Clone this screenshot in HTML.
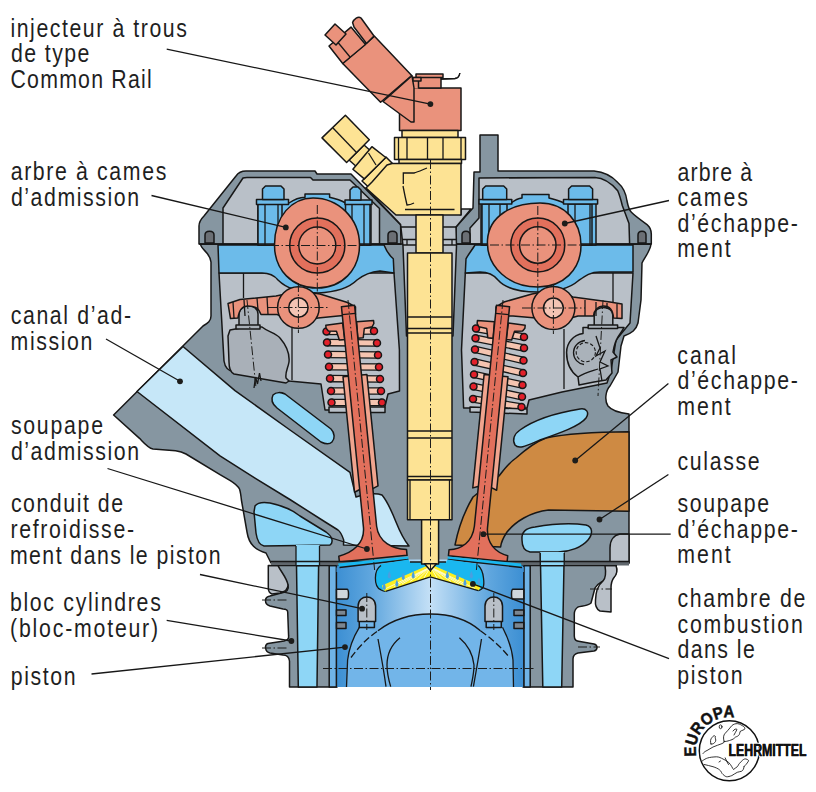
<!DOCTYPE html>
<html><head><meta charset="utf-8">
<style>
html,body{margin:0;padding:0;background:#fff;}
body{width:816px;height:792px;overflow:hidden;}
svg{display:block;}
.t{font-family:"Liberation Sans",sans-serif;font-size:26px;fill:#1f1f1f;}
.o{stroke:#171717;stroke-width:1.5;stroke-linejoin:round;}
.l{stroke:#171717;stroke-width:1.3;fill:none;}
.dd{stroke:#1d1d1b;stroke-width:1;fill:none;stroke-dasharray:9 2.5 1.5 2.5;}
</style></head>
<body>
<svg width="816" height="792" viewBox="0 0 816 792">
<defs>
<linearGradient id="pg" x1="0" x2="1" y1="0" y2="0">
<stop offset="0" stop-color="#3c8fd3"/>
<stop offset="0.18" stop-color="#5fa6de"/>
<stop offset="0.5" stop-color="#c4e0f6"/>
<stop offset="0.82" stop-color="#5fa6de"/>
<stop offset="1" stop-color="#3c8fd3"/>
</linearGradient>
<linearGradient id="pg2" x1="0" x2="1" y1="0" y2="0">
<stop offset="0" stop-color="#4b9ad8"/>
<stop offset="0.5" stop-color="#8dc4ef"/>
<stop offset="1" stop-color="#4b9ad8"/>
</linearGradient>
</defs>
<!-- head body -->
<path class="o" fill="#8696a1" d="M200.5,244 C201,250 210,252 211,262 L211,316 C211,321 208,323 203,326 L113.6,415 L139.8,438.6 C144,443 148,448 153,449 L175.6,450.7 C180,451.3 183,452.3 186,454 L220,474.7 L230.3,480.6 C235,483.5 238,486 239.5,489 C240.5,492 241,496 241.4,500 L247,532 C249,545 256,550 266,553 L271,563 L629,563 L629,414 C620,413 612,411 608,406 C604,400 606,390 610,386 L618,372 L621,346 L624,336 C632,333 636,330 638,323 L641,300 L642,263 C644,258 650,252 651,244 Z"/>
<!-- left cover -->
<path class="o" fill="#8696a1" d="M199,244 L199,226 C199,222 201,219 204,216 L236,176 C238,173 241,171 246,171 L315,171 L317,174 L351,174 L400.6,224.6 L401,244 Z"/>
<path class="o" fill="#b9c0c8" d="M223,244 L223,208 L243,178 C244,177.6 245,177.4 247,177.4 L310.5,177.4 L313,180 L350,180 L379.5,208.5 L379.5,244 Z"/>
<!-- right cover -->
<path class="o" fill="#8696a1" d="M456,244 L456,227 L473,208 L474,172 L480,172 L480,135 L498,135 L498,171 L594,171 C605,172 612,176 618,182.7 C623,187 626,193 627,201 C628,206 629,210 631.4,212.3 C635,216 642,221 647.3,224.8 C650,227 651.3,230 651.3,234 L651.3,244 Z"/>
<path class="o" fill="#b9c0c8" d="M470,244 L470,228 L479,218 L479,178 L595,177.5 C605,178 612,184 617.7,190.7 C620,196 621,200 622.3,205.5 L629,223.6 L629.6,244 Z"/>
<!-- chambers -->
<path class="o" fill="#b9c0c8" d="M219,273 L224,361 C225,368 228,371 234,372 L289,381 L321,384 L325,410 L384,410 L388,394 L399.5,391 L399.4,350 L394,273 Z"/>
<path class="o" fill="#b9c0c8" d="M465.3,273 L461.5,350 L463.6,408 L527,408 L529,400 L562,392 L607,383 L611,371 L616,340 L630,323 L633,273 Z"/>
<!-- lower bearing bands -->
<path class="o" fill="#6cbbea" d="M218,245 L384,245 C386,250 390,256 393.3,258.8 L394,273 L380,271 C370,272 362,276 357,280 C350,287 338,292 318,293 C298,293 285,287 278,280 C274,275 270,273 262,273 L219,273 Z"/>
<path class="o" fill="#6cbbea" d="M475,245 L633,245 L633,272 L600,272 C590,272 585,276 578,281 C570,288 558,292 538,292 C518,292 505,288 498,280 C494,275 488,272 480,272 L465.3,273 L466,258.8 C468,255 472,250 475,245 Z"/>
<!-- upper caps -->
<path class="o" fill="#6cbbea" d="M258,245 L258,203 L289,203 C295,199 300,197.5 305,197.3 L305,194 L329.6,194 L329.6,197.3 C337,199 342,201 345.5,203 L371,203 L371,245 Z"/>
<path class="o" fill="#6cbbea" d="M481,245 L481,203 L511,203 C515,200 518,198.5 522,198 L522,194.5 L549,194.5 L549,198 C555,199.5 560,201 564,203 L596,203 L596,245 Z"/>
<!-- intake port -->
<path class="o" fill="#c6e7f8" d="M137,391.5 L183,346.5 L235,390.6 L290,430 L350,472.4 L356,497 C366,494 376,493 382,495 C388,502 392,512 396,522 C400,532 404,540 409,546 L343.5,545 L343.7,540 C342,535 341,532 338,530 L326,522.5 L290.7,500 L255.4,478.3 L220,455.8 Z"/>
<!-- upper coolant pocket (intake) -->
<path class="o" fill="#8ed6f6" d="M273,395 C276,392 281,392 285,394 L331,429 C335,433 335,439 332,442 C329,445 325,444 321,442 L277,408 C272,404 271,399 273,395 Z"/>
<!-- lower coolant pocket (intake) -->
<path class="o" fill="#8ed6f6" d="M255,506 C258,502 264,502 270,503 C280,505 290,508 300,516 L326,532 C332,536 334,542 330,545 L264,546 C259,545 257,540 256,533 L254,512 Z"/>
<!-- exhaust port -->
<path class="o" fill="#ce8a43" d="M629,431.8 L629,511.3 L548.6,510 C530,512 515,522 507,532 C503,538 501,543 500.6,547 L455,545 C458,530 464,512 473,497 L499,476 C505,468 510,462 516,458 C525,450 535,442 546,438 C570,433 600,432 629,431.8 Z"/>
<!-- head coolant (exhaust) -->
<path class="o" fill="#8ed6f6" d="M515,445 C512,440 514,434 520,430 C534,420 555,413 580,409 C586,408 590,412 586,418 C580,426 560,433 540,440 C528,445 519,450 515,445 Z"/>
<!-- lower right coolant oval -->
<path class="o" fill="#8ed6f6" d="M522,540 C521,532 526,528 535,527 C552,524 572,523 586,525 C593,527 593,534 588,540 C582,547 570,552 558,552 L530,552 C524,551 522,546 522,540 Z"/>
<!-- light grey lower right head -->
<path class="o" fill="#b9c0c8" d="M610,563 L610,548 C610,540 614,535 620,534 L629,534 L629,563 Z"/>
<!-- injector well -->
<path class="o" fill="#b9c0c8" d="M366,188 L400.6,224.6 L403,246 L406.5,336 L453,336 L456.5,246 L456,227 L471,209 L461,209 L461,214.7 Z"/>
<!-- salmon connector (angled) -->
<path class="o" fill="#ea927c" d="M399.5,88 L461,88 L461,130.5 L399.5,130.5 Z"/>
<path class="o" fill="#ea927c" d="M342.7,63.5 L374.5,36.2 L411.7,75.5 L380.6,102.3 Z"/>
<path fill="#ea927c" d="M410,76 L419,77 L419,88.5 L413,88.5 Z"/>
<path class="o" fill="#ea927c" d="M383,101.5 L412,75.8 L414,88 L414,122 L411,122 Z"/>
<path class="o" fill="#ea927c" d="M329,46 L351,27.1 L365.5,44.5 L342.7,63.5 Z"/>
<path class="l" d="M336,40 L350,57"/>
<path class="o" fill="#ea927c" d="M325,35 L335,24 L346,34 L336,45 Z"/>
<path class="o" fill="#ea927c" d="M352.6,22.6 C354,19 358,16 361,18 L374,36 L366.5,43.5 L354,27 Z"/>
<path class="o" fill="#ea927c" d="M418.5,77 L441,77 L441,88 L418.5,88 Z"/>
<path class="o" fill="#ea927c" d="M416,74 L443,74 L443,77.5 L416,77.5 Z"/>
<path class="o" fill="#ea927c" d="M413,77.5 L421,77.5 L421,81 L413,81 Z"/>
<path class="l" stroke-width="3.2" d="M441,79 L455,78.5 C458.5,78 459.5,76 459.8,73"/>
<path class="l" stroke-width="1.4" stroke="#ea927c" d="M441,79 L455,78.5 C458.5,78 459.5,76 459.8,73"/>
<!-- yellow parts -->
<path class="o" fill="#fde394" d="M402,130.5 L458,130.5 L458,137.5 L402,137.5 Z"/>
<path class="o" fill="#fde394" d="M394.5,137.5 L465.5,137.5 L465.5,159.5 L394.5,159.5 Z"/>
<path class="l" d="M398.5,137.5 V159.5 M407,137.5 V159.5 M427.5,137.5 V159.5 M443,137.5 V159.5 M461,137.5 V159.5"/>
<path class="o" fill="#fde394" d="M399,159.5 L461.5,159.5 L461.5,163.5 L399,163.5 Z"/>
<!-- fuel inlet -->
<path class="o" fill="#fde394" d="M362,181 L386,157 L393,164 L369.5,188 Z"/>
<path class="o" fill="#fde394" d="M349,160 L364,145 L373,153 L358,168 Z"/>
<path class="o" fill="#fde394" d="M322,137.9 L345.4,115.2 L369.3,139.8 L346.6,162.5 Z"/>
<path class="l" d="M333,128 L357,153"/>
<path class="o" fill="#fde394" d="M352.9,169.3 L371.9,146.7 L385.8,157.5 L364.3,178.9 Z"/>
<path class="l" d="M368.5,153 L376,165"/>
<path class="o" fill="#fde394" d="M402,163.5 L461,163.5 L461,215 L396,215 L366,188 L372,182 L387,165 L392,163.5 Z"/>
<path class="l" d="M403.3,184 L403.3,173 L414,173 C418,172 422,170 427,168 M403,186 L405,196 L407,205 C409,205 412,204 414,203 M405,209.5 L454.5,209.5"/>
<path class="l" d="M401,227 H416 M443,227 H457 M402.3,239.5 H416 M443,239.5 H456.7 M407,239.5 V245 M452,239.5 V245 M403,245 H416 M443,245 H456.6"/>
<!-- injector shaft -->
<path class="o" fill="#fde394" d="M416,215 L443,215 L443,253 L416,253 Z"/>
<path class="o" fill="#fde394" d="M407.5,253 L452,253 L452,480 L407.5,480 Z"/>
<path class="l" d="M407.5,317 H452 M407.5,328.5 H452 M407.5,333 H452 M407.5,431 H452 M407.5,438 H452 M407.5,476.5 H452"/>
<path class="o" fill="#fde394" d="M407.5,480 L452,480 L452,519.7 L407.5,519.7 Z"/>
<path class="l" d="M410,480 V519.7 M449.5,480 V519.7"/>
<!-- bolts left bearing -->
<g class="o" fill="#6cbbea">
<path d="M258,245 L258,204 L282,204 L282,245 Z"/>
<path d="M256.5,199.5 L288.5,199.5 L288.5,204.5 L256.5,204.5 Z"/>
<path d="M262.5,199.5 L262.5,189 L265.5,186 L281,186 L284,189 L284,199.5 Z"/>
<path d="M345.5,245 L345.5,204 L370,204 L370,245 Z"/>
<path d="M345,200 L372,200 L372,204.5 L345,204.5 Z"/>
<path d="M350,200 L350,190 L353,187 L358,187 L361,190 L361,200 Z"/>
<path d="M482,245 L482,204 L507,204 L507,245 Z"/>
<path d="M479,199.5 L511.8,199.5 L511.8,204 L479,204 Z"/>
<path d="M482.7,199.5 L482.7,189 L485.7,186 L503.7,186 L506.7,189 L506.7,199.5 Z"/>
<path d="M568,245 L568,204 L592,204 L592,245 Z"/>
<path d="M563.5,199.5 L597.6,199.5 L597.6,204 L563.5,204 Z"/>
<path d="M568.6,199.5 L568.6,189 L571.6,186 L589.6,186 L592.6,189 L592.6,199.5 Z"/>
</g>
<path class="l" d="M265,204 V245 M278,204 V245 M489,204 V245 M500,204 V245 M575,204 V245 M590,204 V245 M352,204 V245 M364,204 V245"/>
<!-- dark bumps -->
<g class="o" fill="#6b6f74">
<path d="M205,243 L205,235 C205,230 214,230 214,235 L214,243 Z"/>
<path d="M388,243 L388,235 C388,230 397,230 397,235 L397,243 Z"/>
<path d="M462,243 L462,235 C462,230 470,230 470,235 L470,243 Z"/>
<path d="M638,243 L638,235 C638,230 646,230 646,235 L646,243 Z"/>
</g>
<path class="l" stroke-width="2.2" d="M199,244 H401 M456,244 H651"/>
<!-- cams -->
<path class="o" fill="#ea927c" d="M274.5,245 C274.5,216 292,198 313,198 C338,198 359.5,218 359.5,245 C359.5,270 342,288 317,288 C292,288 274.5,270 274.5,245 Z"/>
<circle class="o" fill="#e2705c" cx="317.3" cy="245.5" r="27.6"/>
<circle class="o" fill="#ea927c" cx="317.3" cy="245.5" r="18.5"/>
<path class="o" fill="#ea927c" d="M487.5,240 C489,216 512,203 540,203 C565,203 581,222 581,245 C581,270 563,287 538,287 C510,287 486,268 487.5,240 Z"/>
<circle class="o" fill="#e2705c" cx="537.8" cy="245" r="27"/>
<circle class="o" fill="#ea927c" cx="537.8" cy="245" r="18.2"/>
<path class="l" d="M243.5,273 V298 M292,327 V380 M613,273 V302 M564,329 V389"/>
<!-- left lash adjuster -->
<path class="o" fill="#a9b0b8" d="M230,330 L246,327 L262,327 C268,332 276,333 280,338 C286,345 290,352 289,362 C288,368 285,372 286,378 L289,381 L286,383 L234,374 C230,372 229,368 229,362 L228,336 Z"/>
<path class="o" fill="#a9b0b8" d="M239,327 L239,314 C239,303 258,303 258,314 L258,327 Z"/>
<path class="o" fill="#a9b0b8" d="M236,325 L260,325 L260,329 L236,329 Z"/>
<path class="l" stroke-width="1.1" d="M254,388 L255.5,377 L257.5,384 L259.5,373 L261,381"/>
<!-- left rocker -->
<path class="o" fill="#ea927c" d="M228,303.5 L240,299.5 L276,296 L300,291 L320,294 L347.5,302.5 L355.5,307 L355.5,314.5 L338,316 L318,318 L298,322 L277,314.5 L261,314.5 C259,309 256,306 248,306 C242,306 239,310 238,318 L230.5,318.6 Z"/>
<path class="l" d="M233,302 L234,318 M244,300 L245,316 M257,298 L258,310 M267,297 L268,314.5"/>
<circle class="o" fill="#ea927c" cx="298.4" cy="307.5" r="20.8"/>
<circle class="o" fill="#f4c4b4" cx="298.4" cy="307.5" r="9.7"/>
<!-- right lash adjuster -->
<path class="o" fill="#aab2ba" d="M583,327.6 L624,327.6 C622,331 620,334 618,337 C615,342 614,346 613,352 L617,357 L611,360 L612,373 L606,380 L594,382 L579,385 L578,377 C571,372 566.6,363 566.6,352.5 C566.6,343 573,335 583,333.6 Z"/>
<path class="l" d="M585,340.5 C578,341.5 573.5,346.5 573.5,352.5 C573.5,359 578,363.5 584,364.5 M578,377 C584,373 592,371 598,369 M596,336 L600,348 L596,356 L605,351 L600,362 L608,366 L600,369 L602,381"/>
<circle cx="585.8" cy="352.2" r="9.6" fill="none" stroke="#171717" stroke-width="1.1" stroke-dasharray="3.5 2"/>
<path class="o" fill="#aab2ba" d="M594.2,326 L594.2,315 C594.2,305 612.8,305 612.8,315 L612.8,326 Z"/>
<path class="o" fill="#aab2ba" d="M588.2,325 L617.6,325 L617.6,328.5 L588.2,328.5 Z"/>
<!-- right rocker -->
<path class="o" fill="#ea927c" d="M622,304 L622,318.5 L613.5,318 C613,310 609,306 603.5,306 C598,306 594,310 593.5,316 L578,316 L556,322 L536,318 L513,316 L496,316 L496,307 L504,302 L532,294 L553,290 L573,297 L610,302 Z"/>
<path class="l" d="M617,304 L617,318 M607,303 L607,309 M596,302 L596,316 M585,300 L585,316"/>
<circle class="o" fill="#ea927c" cx="553.4" cy="308" r="21.5"/>
<circle class="o" fill="#f4c4b4" cx="553.4" cy="308" r="9.9"/>
<!-- left spring -->
<g>
<path d="M326.5,331.5 L374.0,331.0 M327.0,342.6 L377.0,343.0 M328.0,354.5 L378.0,355.0 M329.0,366.7 L379.0,367.0 M330.0,378.6 L380.0,379.0 M331.0,391.0 L381.0,391.0 M331.5,402.5 L382.0,402.5" stroke="#171717" stroke-width="7.6" fill="none"/>
<path d="M326.5,331.5 L374.0,331.0 M327.0,342.6 L377.0,343.0 M328.0,354.5 L378.0,355.0 M329.0,366.7 L379.0,367.0 M330.0,378.6 L380.0,379.0 M331.0,391.0 L381.0,391.0 M331.5,402.5 L382.0,402.5" stroke="#f5c4b0" stroke-width="5" fill="none"/>
<path class="o" fill="#b9c0c8" d="M329,407 L385,407 L385,412.5 L329,412.5 Z"/>
<g class="o" fill="#e2202a" stroke-width="1.1">
<circle cx="326.5" cy="331.5" r="3.5"/><circle cx="327.0" cy="342.6" r="3.5"/><circle cx="328.0" cy="354.5" r="3.5"/><circle cx="329.0" cy="366.7" r="3.5"/><circle cx="330.0" cy="378.6" r="3.5"/><circle cx="331.0" cy="391.0" r="3.5"/><circle cx="331.5" cy="402.5" r="3.5"/><circle cx="374.0" cy="331.0" r="3.5"/><circle cx="377.0" cy="343.0" r="3.5"/><circle cx="378.0" cy="355.0" r="3.5"/><circle cx="379.0" cy="367.0" r="3.5"/><circle cx="380.0" cy="379.0" r="3.5"/><circle cx="381.0" cy="391.0" r="3.5"/><circle cx="382.0" cy="402.5" r="3.5"/>
</g>
</g>
<!-- right spring -->
<g>
<path d="M476.0,328.6 L524.0,337.0 M475.5,338.3 L524.0,348.0 M475.0,349.4 L523.5,360.5 M474.5,362.0 L523.0,373.0 M474.0,374.4 L522.5,385.0 M473.5,386.4 L522.0,396.7 M473.0,399.0 L521.5,407.0" stroke="#171717" stroke-width="7.6" fill="none"/>
<path d="M476.0,328.6 L524.0,337.0 M475.5,338.3 L524.0,348.0 M475.0,349.4 L523.5,360.5 M474.5,362.0 L523.0,373.0 M474.0,374.4 L522.5,385.0 M473.5,386.4 L522.0,396.7 M473.0,399.0 L521.5,407.0" stroke="#f5c4b0" stroke-width="5" fill="none"/>
<path class="o" fill="#b9c0c8" d="M470,407 L527,409 L527,414 L470,412 Z"/>
<g class="o" fill="#e2202a" stroke-width="1.1">
<circle cx="476.0" cy="328.6" r="3.5"/><circle cx="475.5" cy="338.3" r="3.5"/><circle cx="475.0" cy="349.4" r="3.5"/><circle cx="474.5" cy="362.0" r="3.5"/><circle cx="474.0" cy="374.4" r="3.5"/><circle cx="473.5" cy="386.4" r="3.5"/><circle cx="473.0" cy="399.0" r="3.5"/><circle cx="524.0" cy="337.0" r="3.5"/><circle cx="524.0" cy="348.0" r="3.5"/><circle cx="523.5" cy="360.5" r="3.5"/><circle cx="523.0" cy="373.0" r="3.5"/><circle cx="522.5" cy="385.0" r="3.5"/><circle cx="522.0" cy="396.7" r="3.5"/><circle cx="521.5" cy="407.0" r="3.5"/>
</g>
</g>
<!-- left valve -->
<g transform="translate(348,306) rotate(-5.7)">
<path class="o" fill="#f0a48e" d="M-12,70 L12,70 L12,182 L7,184 L-7,184 L-12,186 Z"/>
<path class="o" fill="#ea927c" d="M-24,17 L-7,16.5 L-6.6,33 L-12,33 L-14,24 L-22,23 L-24,20 Z M24,17 L7,16.5 L6.6,33 L12,33 L14,24 L22,23 L24,20 Z"/>
<path class="o" fill="#e2705c" d="M-6.6,0 L6.6,0 L6.6,222 C7,238 20,246 34,248 L34,254 L-34,254 L-34,248 C-20,246 -7,238 -6.6,222 Z"/>
<path class="l" d="M-6.6,8 H6.6"/>
</g>
<!-- right valve -->
<g transform="translate(503,306) rotate(5.7)">
<path class="o" fill="#f0a48e" d="M-12,70 L12,70 L12,184 L7,182 L-7,182 L-12,184 Z"/>
<path class="o" fill="#ea927c" d="M-24,17 L-7,16.5 L-6.6,33 L-12,33 L-14,24 L-22,23 L-24,20 Z M24,17 L7,16.5 L6.6,33 L12,33 L14,24 L22,23 L24,20 Z"/>
<path class="o" fill="#e2705c" d="M-6.6,0 L6.6,0 L6.6,222 C7,238 17,246 29.5,248 L29.5,254 L-29.5,254 L-29.5,248 C-17,246 -7,238 -6.6,222 Z"/>
<path class="l" d="M-6.6,8 H6.6"/>
</g>
<!-- block left -->
<path class="o" fill="#8696a1" d="M277,565 L337,565 L337,687 L289.5,687 L289.5,661 C289,657 287,655 283,655 L270,653 C265,652 264,645 268,643.5 L284,641 C288,640 289,638 288.6,636 L287.7,612 C287.5,609 285,609 283,609 L270,606 C264,604 264,597 270,596 L285,592 C289,590 289,586 287,583 C283,576 278,570 277,565 Z"/>
<path class="o" fill="#b9c0c8" d="M268.3,565.6 L278,565.6 C281,572 287,578 288,585 C288,590 284,592 280,593 L272,594 C269,593 268.3,590 268.3,588 Z"/>
<path class="o" fill="#8ed6f6" d="M296.5,565.6 L318.6,565.6 L317,687 L298.3,687 Z"/>
<path class="o" fill="#6fb3e6" d="M329.2,565.6 L336.5,565.6 L336.5,687 L329.2,687 Z"/>
<!-- block right -->
<path class="o" fill="#8696a1" d="M523,565 L616,565 C617,570 617,574 614,577 C606,580 598,582 595,588 L591,603 C588,606 582,606 578,607 C575,609 574.3,611 574.3,614 L574.3,636 C574.3,640 576,641 580,641.5 L594,644 C598,645 598,650 594,651 L578,653 C574,654 573,656 573,659 L573,687 L523,687 Z"/>
<path class="o" fill="#b9c0c8" d="M605,565.6 L616,565.6 C617.5,570 617.5,574 614,577.5 C612,580 611,583 611,588 L611,612 L600,611 C596,609 595,605 595.5,600 C596,592 597,586 603,581 C606,578 606,572 605,565.6 Z"/>
<path class="o" fill="#8ed6f6" d="M540.3,553 L564.2,553 L561.7,687 L542.8,687 Z"/>
<path class="o" fill="#6fb3e6" d="M523.8,565.6 L530.2,565.6 L530.2,687 L523.8,687 Z"/>
<!-- gasket -->
<path fill="#5f666c" d="M271,561.5 H629 V565.6 H271 Z"/>
<path class="l" d="M271,561.5 H629 M268,565.6 H617"/>
<path fill="#8ed6f6" d="M296,545 L319.5,545 L319.5,566 L296,566 Z M540.3,552 L564.2,552 L564.2,566 L540.3,566 Z"/>
<path class="l" d="M296,546 V566 M319.5,546 V566 M540.3,553 V566 M564.2,553 V566 M296,561.5 H319.5 M296,565.6 H319.5 M540.3,561.5 H564.2 M540.3,565.6 H564.2"/>
<!-- piston -->
<path fill="url(#pg)" d="M336.5,565.6 H523.8 V687 H336.5 Z"/>
<path fill="#72b5e9" d="M346.5,687 L347.6,660 C349,648 354,636 359.3,627.3 L378,630.7 C392,620 410,614 430.3,614 C450,614 468,620 480.4,630.7 L502.5,627.3 C507,636 512,648 513,660 L513.5,687 Z"/>
<path class="l" d="M346.5,687 L347.6,660 C349,648 354,636 359.3,627.3 M378,630.7 C392,620 410,614 430.3,614 C450,614 468,620 480.4,630.7 M502.5,627.3 C507,636 512,648 513,660 L513.5,687"/>
<path class="l" stroke-dasharray="7 3" d="M351,657.5 C358,648 366,639 378,630.7 M480.4,630.7 C492,639 502,648 509.5,657.5"/>
<path class="l" d="M378,639 C381,655 384,672 386,686.6 M400,637.7 C391,645 387,655 387,665 C387,674 389,681 390.7,686.6 M481.5,639 C479,655 476,672 473.4,686.6 M459.4,637.7 C468,645 473,655 474,665 C474,674 472,681 471,686.6"/>
<path class="l" d="M336.5,565.6 V687 M523.8,565.6 V687"/>
<!-- pin bosses -->
<path class="o" fill="#72b5e9" d="M359.3,620 H374.4 V627.5 H359.3 Z M486.2,620 H501.3 V627.5 H486.2 Z"/>
<path class="o" fill="#b9c0c8" d="M358.1,621.4 L358.1,606 C358.1,594 375.6,594 375.6,606 L375.6,621.4 Z M485,621.4 L485,606 C485,594 502.5,594 502.5,606 L502.5,621.4 Z"/>
<path class="dd" d="M366.8,593 V630 M493.8,593 V630"/>
<!-- ring grooves -->
<g class="o" fill="#cfd6dc" stroke-width="1.1">
<path d="M336.5,589.3 H347 C349,589.3 349,599 347,599 H336.5 Z"/>
<path d="M523.8,589.3 H513 C511,589.3 511,599 513,599 H523.8 Z"/>
</g>
<g class="o" fill="#7b8690" stroke-width="1.1">
<path d="M336.5,610 H346 V615.5 H336.5 Z M336.5,622.4 H346 V628.5 H336.5 Z"/>
<path d="M523.8,610 H514 V615.5 H523.8 Z M523.8,622.4 H514 V628.5 H523.8 Z"/>
</g>
<!-- combustion gap & bowl -->
<path fill="url(#pg)" d="M336.5,567.5 L408.4,559.5 L447.7,559.5 L523.8,567 L523.8,572 L336.5,572 Z"/>
<path fill="#1ab7ef" d="M338,563.5 L408.4,556.5 L408.4,559.5 L339.5,567.5 Z M447.7,556.4 L521,563.5 L522,567.5 L447.7,559.5 Z"/>
<path class="l" d="M339.5,567.5 L408.4,559.5 M447.7,559.5 L522,567.5"/>
<path fill="#1ab7ef" d="M380.6,564 L408.4,559.5 L410,562 L446,562 L447.7,559.5 L478.3,564 C482,569 483,573 483.5,578 C484,582 484,585 483.2,587 C482,589 480,590.5 478.3,590.6 L430.3,576.9 L385.7,591.4 C384,591.3 382,590.5 380.6,589.7 C377,588 375.3,584 375.4,578 C375.5,572 377,568 380.6,564 Z"/>
<path class="l" d="M410,562 H446"/>
<path class="l" stroke-width="1.5" d="M381,565.5 C377,568 375.5,572 375.4,578 C375.3,584 377,588 380.6,589.7 C382,590.5 384,591.3 385.7,591.4 M478.3,565.5 C482,569 483,573 483.5,578 C484,582 484,585 483.2,587 C482,589 480,590.5 478.3,590.6"/>
<path fill="#fcee21" d="M427.5,565.5 L382,585.5 L383,589.5 L385.7,591.4 L430.3,576.9 L478.3,590.6 L480.5,588 L479,585.5 L433.5,565.5 Z"/>
<g stroke="#fffde0" stroke-width="0.9" opacity="0.95">
<path d="M430.5,567 L386,588.5 M430.5,567 L394,586.5 M430.5,567 L402,584 M430.5,567 L410,581.5 M430.5,567 L418,579.5 M430.5,567 L424,578"/>
<path d="M430.5,567 L475,588.5 M430.5,567 L467,586.5 M430.5,567 L459,584 M430.5,567 L451,581.5 M430.5,567 L443,579.5 M430.5,567 L437,578"/>
</g>
<path class="l" stroke-width="1.5" d="M385.7,591.4 L430.3,576.9 L478.3,590.6"/>
<g fill="#4a9fe0">
<path transform="translate(389.3 575.0) scale(1.35) translate(-389.3 -575.0)" d="M389.3,572 C388,575 387.5,577 389.3,577.5 C391,577 390.5,575 389.3,572 Z"/>
<path transform="translate(403.2 576.5) scale(1.35) translate(-403.2 -576.5)" d="M403.2,573.5 C402,576.5 401.5,578.5 403.2,579 C405,578.5 404.5,576.5 403.2,573.5 Z"/>
<path transform="translate(413.3 575.0) scale(1.35) translate(-413.3 -575.0)" d="M413.3,572 C412,575 411.5,577 413.3,577.5 C415,577 414.5,575 413.3,572 Z"/>
<path transform="translate(396.9 583.5) scale(1.35) translate(-396.9 -583.5)" d="M396.9,580.5 C395.6,583.5 395.1,585.5 396.9,586 C398.6,585.5 398.1,583.5 396.9,580.5 Z"/>
<path transform="translate(384.3 586.5) scale(1.35) translate(-384.3 -586.5)" d="M384.3,583.5 C383,586.5 382.5,588.5 384.3,589 C386,588.5 385.5,586.5 384.3,583.5 Z"/>
<path transform="translate(447.4 575.0) scale(1.35) translate(-447.4 -575.0)" d="M447.4,572 C446,575 445.6,577 447.4,577.5 C449.1,577 448.7,575 447.4,572 Z"/>
<path transform="translate(457.5 576.5) scale(1.35) translate(-457.5 -576.5)" d="M457.5,573.5 C456.2,576.5 455.7,578.5 457.5,579 C459.2,578.5 458.7,576.5 457.5,573.5 Z"/>
<path transform="translate(471.4 575.0) scale(1.35) translate(-471.4 -575.0)" d="M471.4,572 C470,575 469.6,577 471.4,577.5 C473.1,577 472.7,575 471.4,572 Z"/>
<path transform="translate(465.0 582.5) scale(1.35) translate(-465.0 -582.5)" d="M465,579.5 C463.7,582.5 463.2,584.5 465,585 C466.7,584.5 466.2,582.5 465,579.5 Z"/>
<path transform="translate(479.0 581.5) scale(1.35) translate(-479.0 -581.5)" d="M479,578.5 C477.7,581.5 477.2,583.5 479,584 C480.7,583.5 480.2,581.5 479,578.5 Z"/>
</g>
<!-- injector nozzle -->
<path class="o" fill="#fde394" d="M421.6,519.7 L438.6,519.7 L438.6,564 L421.6,564 Z"/>
<path class="o" fill="#fde394" d="M424.5,563.8 L436.5,563.8 L430.4,570.5 Z"/>
<!-- center lines -->
<g class="dd">
<path d="M430.5,160 V690"/>
<path d="M270,245.5 H366 M317.3,205 V292"/>
<path d="M490,245 H586 M537.8,206 V292"/>
<path d="M268,307.5 H330 M298.4,283 V333"/>
<path d="M522,308 H585 M553.4,284 V334"/>
<path d="M348,300 L374.6,570"/>
<path d="M503,300 L476.4,570"/>
<path d="M247,300 L256,388"/>
<path d="M603,300 L598,396"/>
<path d="M323,668.5 H536"/>
<path d="M262,600 H287 M262,648 H287"/>
<path d="M590,589 H612 M578,647 H600"/>
</g>
<!-- leader lines -->
<g class="l" stroke-width="1.2">
<path d="M166.7,49.2 L430.4,104.1"/>
<path d="M151.5,195.5 L285.8,227.4"/>
<path d="M106,339 L180,381.3"/>
<path d="M107.5,468.5 L366.9,549"/>
<path d="M200,574.5 L362.1,608.7"/>
<path d="M166.7,620.3 L291.4,641"/>
<path d="M91.5,674 L345,647.1"/>
<path d="M669,200.5 L564.8,223.5"/>
<path d="M668.4,383.6 L575.2,460.5"/>
<path d="M668.4,474.5 L599.5,519.5"/>
<path d="M670.7,534.1 L483.4,534.2"/>
<path d="M669,658.7 L472.9,583.9"/>
</g>
<g fill="#1d1d1b">
<circle cx="430.4" cy="104.1" r="2.9"/>
<circle cx="285.8" cy="227.4" r="2.9"/>
<circle cx="180" cy="381.3" r="2.9"/>
<circle cx="366.9" cy="549" r="2.9"/>
<circle cx="362.1" cy="608.7" r="2.9"/>
<circle cx="291.4" cy="641" r="2.9"/>
<circle cx="345" cy="647.1" r="2.9"/>
<circle cx="564.8" cy="223.5" r="2.9"/>
<circle cx="575.2" cy="460.5" r="2.9"/>
<circle cx="599.5" cy="519.5" r="2.9"/>
<circle cx="483.4" cy="534.2" r="2.9"/>
<circle cx="472.9" cy="583.9" r="2.9"/>
</g>
<!-- logo -->
<g>
<circle cx="729.3" cy="750.7" r="30" fill="none" stroke="#111" stroke-width="1.5"/>
<defs><path id="arc" d="M696.31,756.52 A33.5,33.5 0 0 1 740.76,719.22"/></defs>
<text font-family="Liberation Sans" font-weight="bold" font-size="16.5" fill="#111" stroke="#111" stroke-width="0.5"><textPath href="#arc" textLength="63.5" lengthAdjust="spacingAndGlyphs">EUROPA</textPath></text>
<g fill="none" stroke="#111" stroke-width="0.85" stroke-linejoin="round" stroke-linecap="round">
<path d="M724.1,741.4 C723,738 723.5,735 725,733.5 C727,731.5 729,729 730.7,727 C732,725 734,724 736,723.7 C738.4,723.3 740.5,724.5 741.7,725.4 C743,726 744.5,726.5 745,728.7 C744,730 742,730.5 740.6,731 C739.5,732 740,734.5 738.5,735.5 C737,737 735.5,736.5 734.5,738 C733,739.5 731,740 729.5,740.5 C727.5,741 726,741.8 724.1,741.4 Z"/>
<path d="M733,731 C734.5,729 736,728.5 737,729.5 C736,731.5 735,733 734,735"/>
<path d="M711,744 C710,741.5 710.5,739 712,737.5 C713,736 714.5,735 715.5,736.5 C714.5,738 716.5,739.5 715.5,741.5 C714.5,743 713,744.5 711,744 Z"/>
<ellipse cx="720.6" cy="726.8" rx="1.4" ry="1.9"/>
<path d="M703,753.5 C704,752 705.4,751.3 707,750.5 C709,749.5 711,748 713,747 C716,746 719,744.5 722,743.6 C723.5,743 724.5,742 725,741.4"/>
<path d="M702,761.2 C704,759.5 706,758.5 707.6,758 C710,757.2 713,757 716.4,756.8 C719,756.8 721,758 723,759 C725,760 727,761 728.5,762.3 C730,763.5 731,765.5 731.8,766.7 C732.5,768 733,769 733.5,769.5 C735,768.5 736,767.5 737.3,766.7 C738.5,765.5 738.5,764 739.5,763.4 C741,762 741.5,760.8 742.8,760 C744,759 745,758.8 746,759 C748,759.5 749,760.5 748.4,761.2 C747.5,762.5 747,763.5 746,764.5 C745,765.5 744.5,766 744,766.7"/>
<path d="M704.3,764.5 C707,765 710,766 713,766.7 C715.5,767.5 718,768.5 719.7,770 C721,771 721.5,772.5 722,773.4 C723.5,775 725,776.3 726.3,776.7 C728,777 730,776.2 731.8,775.6 C734,774.5 735.5,773 737.3,772.3 C739,771.8 740.5,771.5 741.7,771.2 C743,770.5 744,768.5 744,766.7"/>
<path d="M725.2,757.9 C726,760 727,762 728.5,764.5 M719,762 L720.5,761"/>
</g>
<text x="728.5" y="756" font-family="Liberation Sans" font-weight="bold" font-size="16.8" fill="#111" stroke="#fff" stroke-width="2.5" paint-order="stroke" textLength="78" lengthAdjust="spacingAndGlyphs">LEHRMITTEL</text>
<text x="728.5" y="756" font-family="Liberation Sans" font-weight="bold" font-size="16.8" fill="#111" stroke="#111" stroke-width="0.4" textLength="78" lengthAdjust="spacingAndGlyphs">LEHRMITTEL</text>
</g>
<!--TEXT-->
<g class="t">
<text transform="translate(10.40 36.6) scale(0.82 1)" textLength="215.24" lengthAdjust="spacing">injecteur à trous</text>
<text transform="translate(10.90 62.1) scale(0.82 1)" textLength="95.73" lengthAdjust="spacing">de type</text>
<text transform="translate(10.50 88.3) scale(0.82 1)" textLength="172.20" lengthAdjust="spacing">Common Rail</text>
<text transform="translate(10.70 180.4) scale(0.82 1)" textLength="189.76" lengthAdjust="spacing">arbre à cames</text>
<text transform="translate(10.90 206.3) scale(0.82 1)" textLength="156.22" lengthAdjust="spacing">d’admission</text>
<text transform="translate(10.70 323.9) scale(0.82 1)" textLength="146.71" lengthAdjust="spacing">canal d’ad-</text>
<text transform="translate(10.60 349.7) scale(0.82 1)" textLength="99.76" lengthAdjust="spacing">mission</text>
<text transform="translate(10.90 433.9) scale(0.82 1)" textLength="112.32" lengthAdjust="spacing">soupape</text>
<text transform="translate(10.90 460.1) scale(0.82 1)" textLength="156.22" lengthAdjust="spacing">d’admission</text>
<text transform="translate(10.90 512) scale(0.82 1)" textLength="136.83" lengthAdjust="spacing">conduit de</text>
<text transform="translate(10.60 538) scale(0.82 1)" textLength="150.49" lengthAdjust="spacing">refroidisse-</text>
<text transform="translate(9.90 563.7) scale(0.82 1)" textLength="256.83" lengthAdjust="spacing">ment dans le piston</text>
<text transform="translate(9.90 610.6) scale(0.82 1)" textLength="184.02" lengthAdjust="spacing">bloc cylindres</text>
<text transform="translate(10.10 637) scale(0.82 1)" textLength="180.49" lengthAdjust="spacing">(bloc-moteur)</text>
<text transform="translate(10.80 685.4) scale(0.82 1)" textLength="79.02" lengthAdjust="spacing">piston</text>

<text transform="translate(677.40 180.5) scale(0.82 1)" textLength="91.22" lengthAdjust="spacing">arbre à</text>
<text transform="translate(677.40 205.6) scale(0.82 1)" textLength="86.10" lengthAdjust="spacing">cames</text>
<text transform="translate(677.40 231.6) scale(0.82 1)" textLength="146.95" lengthAdjust="spacing">d’échappe-</text>
<text transform="translate(677.30 256.8) scale(0.82 1)" textLength="65.12" lengthAdjust="spacing">ment</text>
<text transform="translate(677.30 363.6) scale(0.82 1)" textLength="71.71" lengthAdjust="spacing">canal</text>
<text transform="translate(677.40 389.4) scale(0.82 1)" textLength="146.95" lengthAdjust="spacing">d’échappe-</text>
<text transform="translate(677.30 414.7) scale(0.82 1)" textLength="65.12" lengthAdjust="spacing">ment</text>
<text transform="translate(677.40 470.4) scale(0.82 1)" textLength="100.37" lengthAdjust="spacing">culasse</text>
<text transform="translate(677.40 511.9) scale(0.82 1)" textLength="111.71" lengthAdjust="spacing">soupape</text>
<text transform="translate(677.40 537.7) scale(0.82 1)" textLength="146.95" lengthAdjust="spacing">d’échappe-</text>
<text transform="translate(677.30 563.3) scale(0.82 1)" textLength="65.12" lengthAdjust="spacing">ment</text>
<text transform="translate(677.40 606.8) scale(0.82 1)" textLength="155.98" lengthAdjust="spacing">chambre de</text>
<text transform="translate(677.40 632.6) scale(0.82 1)" textLength="153.05" lengthAdjust="spacing">combustion</text>
<text transform="translate(677.40 658.3) scale(0.82 1)" textLength="94.39" lengthAdjust="spacing">dans le</text>
<text transform="translate(677.30 684.4) scale(0.82 1)" textLength="79.76" lengthAdjust="spacing">piston</text>
</g>
</svg>
</body></html>
